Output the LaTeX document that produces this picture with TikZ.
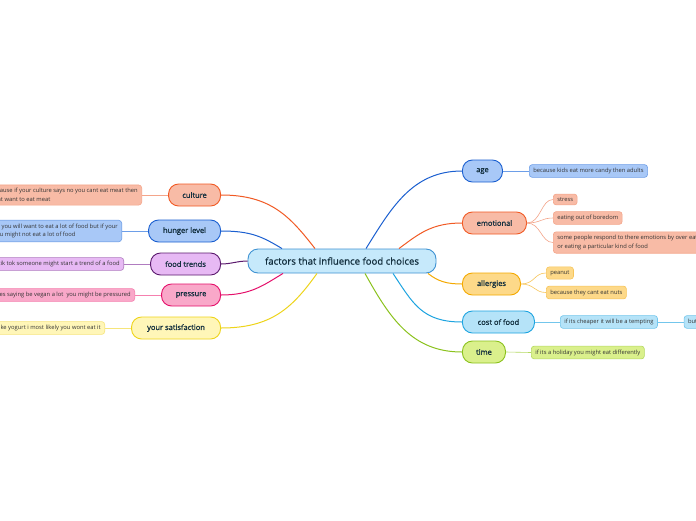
\documentclass[tikz,border=0pt]{standalone}
\usepackage{fontspec}
\setmainfont{Open Sans}
\newfontfamily\heavyfont{Open Sans}[FakeBold=1.2]
\usetikzlibrary{positioning}
% branch colours
\definecolor{rootfill}{HTML}{C6E9FB}
\definecolor{rootline}{HTML}{3F93D3}
\definecolor{orline}{HTML}{F15A24}
\definecolor{orfill}{HTML}{F8BBA6}
\definecolor{orleaf}{HTML}{F4A58A}
\definecolor{blline}{HTML}{1A5FD0}
\definecolor{blfill}{HTML}{A8C8F7}
\definecolor{blleaf}{HTML}{6D9EE8}
\definecolor{puline}{HTML}{5B1A6E}
\definecolor{pufill}{HTML}{E7B9F4}
\definecolor{puleaf}{HTML}{B07CC0}
\definecolor{piline}{HTML}{E5106B}
\definecolor{pifill}{HTML}{F9A8C9}
\definecolor{pileaf}{HTML}{F580AF}
\definecolor{yeline}{HTML}{EED41A}
\definecolor{yefill}{HTML}{FFF6B8}
\definecolor{yeleaf}{HTML}{F6E57A}
\definecolor{amline}{HTML}{F4A900}
\definecolor{amfill}{HTML}{FDD989}
\definecolor{amleaf}{HTML}{F7C55A}
\definecolor{cyline}{HTML}{1DA4E0}
\definecolor{cyfill}{HTML}{B5E3F8}
\definecolor{cyleaf}{HTML}{73C6EC}
\definecolor{grline}{HTML}{8BC21D}
\definecolor{grfill}{HTML}{DAF08C}
\definecolor{grleaf}{HTML}{B5D962}
\definecolor{topictext}{HTML}{14303F}
\definecolor{leaftext}{HTML}{333333}

\begin{document}
\begin{tikzpicture}[x=1pt,y=-1pt,
    root/.style={draw=rootline, fill=rootfill, line width=0.9pt, rounded corners=10pt,
      minimum width=188pt, minimum height=24pt, text=topictext,
      font=\heavyfont\fontsize{9.6}{11}\selectfont},
    topic/.style={draw, line width=0.9pt, rounded corners=10pt, minimum height=22pt,
      inner xsep=2pt, text=topictext, font=\heavyfont\fontsize{7.5}{9}\selectfont},
    leaf/.style={draw, line width=0.6pt, rounded corners=3pt, inner xsep=4pt, inner ysep=3.5pt,
      align=left, text=leaftext, font=\fontsize{5.8}{8.6}\selectfont},
    branch/.style={line width=1pt},
    twig/.style={line width=0.6pt}]
  \fill[white] (0,0) rectangle (696,520);
  \useasboundingbox (0,0) rectangle (696,520);

  % Central topic
  \node[root] (root) at (342,261) {factors that influence food choices};

  % Left topics
  \node[topic, draw=orline, fill=orfill, minimum width=52pt, anchor=east] (culture) at (221,195) {culture};
  \node[topic, draw=blline, fill=blfill, minimum width=72pt, anchor=east] (hunger) at (221,231) {hunger level};
  \node[topic, draw=puline, fill=pufill, minimum width=70pt, anchor=east] (trends) at (221,264) {food trends};
  \node[topic, draw=piline, fill=pifill, minimum width=59pt, anchor=east] (pressure) at (221,295) {pressure};
  \node[topic, draw=yeline, fill=yefill, minimum width=89pt, anchor=east] (satisf) at (221,328) {your satisfaction};

  % Right topics
  \node[topic, draw=blline, fill=blfill, minimum width=40pt, anchor=west] (age) at (462,171) {age};
  \node[topic, draw=orline, fill=orfill, minimum width=64pt, anchor=west] (emotional) at (462,223) {emotional};
  \node[topic, draw=amline, fill=amfill, minimum width=58pt, anchor=west] (allergies) at (462,284) {allergies};
  \node[topic, draw=cyline, fill=cyfill, minimum width=72pt, anchor=west] (cost) at (462,322) {cost of food};
  \node[topic, draw=grline, fill=grfill, minimum width=43pt, anchor=west] (time) at (462,352) {time};

  % Left details
  \node[leaf, draw=orleaf, fill=orfill, anchor=east] (cultureA) at (142,195)
    {because if your culture says no you cant eat meat then\\dont want to eat meat};
  \node[leaf, draw=blleaf, fill=blfill, anchor=east] (hungerA) at (122,231)
    {if your hungry you will want to eat a lot of food but if your\\not hungry you might not eat a lot of food};
  \node[leaf, draw=puleaf, fill=pufill, anchor=east] (trendsA) at (124,264)
    {on tik tok someone might start a trend of a food};
  \node[leaf, draw=pileaf, fill=pifill, anchor=east] (pressureA) at (135,295)
    {if everyones saying be vegan a lot\ \ you might be pressured};
  \node[leaf, draw=yeleaf, fill=yefill, anchor=east] (satisfA) at (105,328)
    {if you dont like yogurt i most likely you wont eat it};

  % Right details
  \node[leaf, draw=blleaf, fill=blfill, anchor=west] (ageA) at (529,171) {because kids eat more candy then adults};
  \node[leaf, draw=orleaf, fill=orfill, anchor=west] (emoA) at (553,199.5) {stress};
  \node[leaf, draw=orleaf, fill=orfill, anchor=west] (emoB) at (553,218) {eating out of boredom};
  \node[leaf, draw=orleaf, fill=orfill, anchor=west] (emoC) at (553,242.5)
    {some people respond to there emotions by over eating\\or eating a particular kind of food};
  \node[leaf, draw=amleaf, fill=amfill, anchor=west] (allA) at (546,273) {peanut};
  \node[leaf, draw=amleaf, fill=amfill, anchor=west] (allB) at (546,292.5) {because they cant eat nuts};
  \node[leaf, draw=cyleaf, fill=cyfill, anchor=west] (costA) at (560,322) {if its cheaper it will be a tempting};
  \node[leaf, draw=cyleaf, fill=cyfill, right=26pt of costA] (costB) {but if its expensive you might not};
  \node[leaf, draw=grleaf, fill=grfill, anchor=west] (timeA) at (531,352.5) {if its a holiday you might eat differently};

  % Main branches
  \draw[branch, orline] ([xshift=-27]root.north) .. controls +(-25,-32) and +(50,0) .. (culture.east);
  \draw[branch, blline] ([xshift=-60]root.north) .. controls +(-20,-12) and +(30,0) .. (hunger.east);
  \draw[branch, puline] (root.west) .. controls +(-10,0) and +(10,0) .. (trends.east);
  \draw[branch, piline] ([xshift=-59]root.south) .. controls +(-20,12) and +(30,0) .. (pressure.east);
  \draw[branch, yeline] ([xshift=-25]root.south) .. controls +(-25,35) and +(50,0) .. (satisf.east);
  \draw[branch, blline] ([xshift=24]root.north) .. controls +(25,-40) and +(-50,0) .. (age.west);
  \draw[branch, orline] ([xshift=57]root.north) .. controls +(20,-15) and +(-30,0) .. (emotional.west);
  \draw[branch, amline] ([xshift=86]root.south) .. controls +(10,8) and +(-15,0) .. (allergies.west);
  \draw[branch, cyline] ([xshift=51]root.south) .. controls +(20,30) and +(-40,0) .. (cost.west);
  \draw[branch, grline] ([xshift=23]root.south) .. controls +(25,45) and +(-50,0) .. (time.west);

  % Detail lines
  \draw[twig, orleaf] (culture.west) -- (cultureA.east);
  \draw[twig, blleaf] (hunger.west) -- (hungerA.east);
  \draw[twig, puleaf] (trends.west) -- (trendsA.east);
  \draw[twig, pileaf] (pressure.west) -- (pressureA.east);
  \draw[twig, yeleaf] (satisf.west) -- (satisfA.east);
  \draw[twig, blleaf] (age.east) -- (ageA.west);
  \draw[twig, orleaf] (emotional.east) .. controls +(14,0) and +(-12,0) .. (emoA.west);
  \draw[twig, orleaf] (emotional.east) .. controls +(14,0) and +(-12,0) .. (emoB.west);
  \draw[twig, orleaf] (emotional.east) .. controls +(14,0) and +(-12,0) .. (emoC.west);
  \draw[twig, amleaf] (allergies.east) .. controls +(14,0) and +(-12,0) .. (allA.west);
  \draw[twig, amleaf] (allergies.east) .. controls +(14,0) and +(-12,0) .. (allB.west);
  \draw[twig, cyleaf] (cost.east) -- (costA.west);
  \draw[twig, cyleaf] (costA.east) -- (costB.west);
  \draw[twig, grleaf] (time.east) -- (timeA.west);
\end{tikzpicture}
\end{document}
